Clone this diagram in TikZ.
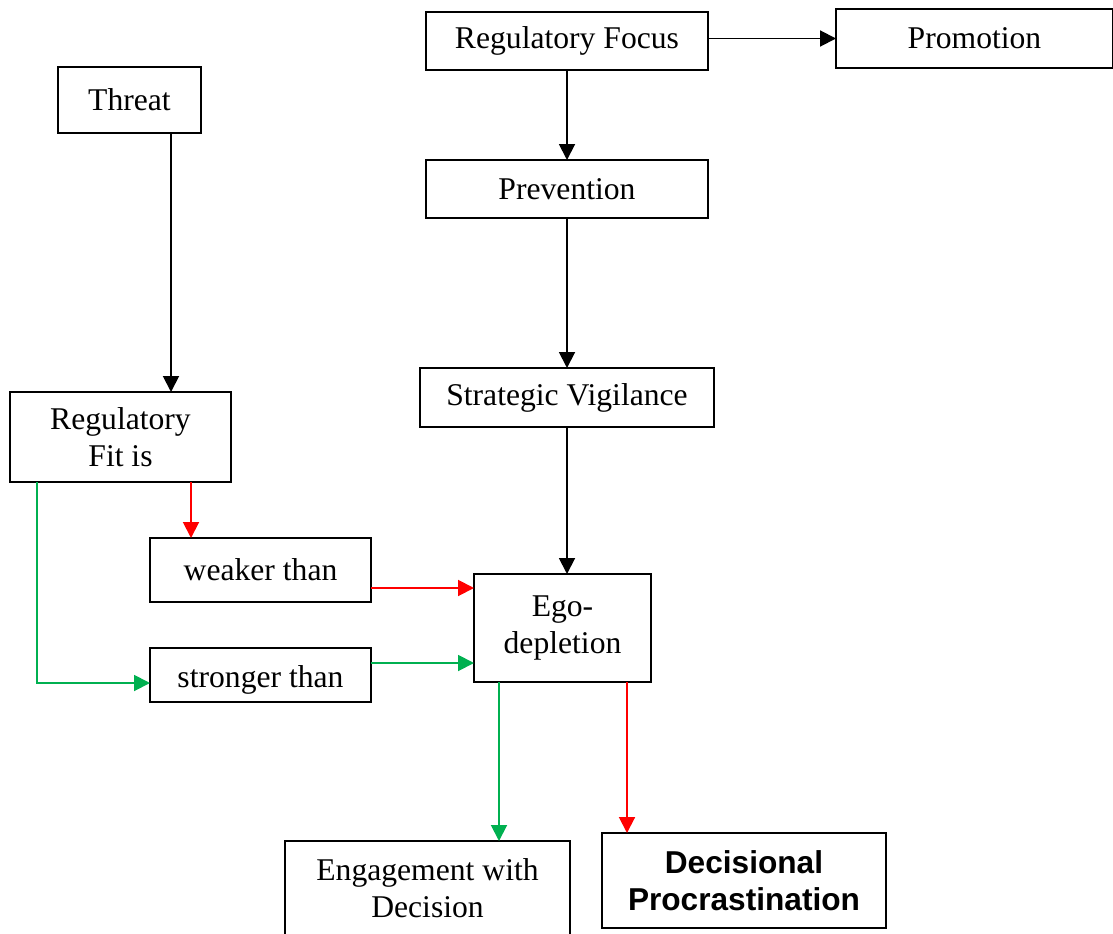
\documentclass[tikz,border=0pt]{standalone}
\usepackage{fontspec}
\setmainfont{Liberation Serif}
\newfontfamily\boldsans{Liberation Sans}
\usetikzlibrary{arrows.meta, positioning}
\definecolor{fitgreen}{RGB}{0,176,80}
\definecolor{fitred}{RGB}{255,0,0}

\begin{document}
\begin{tikzpicture}[>={Triangle[length=9pt,width=9pt]}, line width=1.1pt,
    box/.style={draw, rectangle, inner sep=0pt, outer sep=0pt, align=center, font=\fontsize{18}{21}\selectfont}]
    \useasboundingbox (0,0) rectangle (22.26,-18.68);

    %define the boxes
    \node[box, minimum width=5.64cm, minimum height=1.16cm] (focus) at (11.34,-0.82) {Regulatory Focus};
    \node[box, minimum width=5.54cm, minimum height=1.18cm] (promo) [right=2.56cm of focus, yshift=0.05cm] {Promotion};
    \node[box, minimum width=5.64cm, minimum height=1.16cm] (prev)  [below=1.8cm of focus] {Prevention};
    \node[box, minimum width=5.88cm, minimum height=1.18cm] (vig)   [below=3cm of prev] {Strategic Vigilance};
    \node[box, minimum width=3.54cm, minimum height=2.16cm] (ego)   [below=2.94cm of vig, xshift=-0.09cm] {Ego-\\depletion};
    \node[box, minimum width=2.86cm, minimum height=1.32cm] (threat) at (2.59,-2.0) {Threat};
    \node[box, minimum width=4.42cm, minimum height=1.8cm]  (fit)   [below=5.18cm of threat, xshift=-0.18cm] {Regulatory\\Fit is};
    \node[box, minimum width=4.42cm, minimum height=1.28cm] (weaker) [below=1.12cm of fit, xshift=2.8cm] {weaker than};
    \node[box, minimum width=4.42cm, minimum height=1.08cm, text height=16pt, text depth=2pt] (stronger) [below=0.92cm of weaker] {stronger than};
    \node[box, minimum width=5.7cm, minimum height=1.88cm]  (engage) [below=3.18cm of ego, xshift=-2.7cm] {Engagement with\\Decision};
    \node[box, minimum width=5.68cm, minimum height=1.9cm, font=\boldsans\bfseries\fontsize{18}{21}\selectfont] (proc) [below=3.02cm of ego, xshift=3.63cm] {Decisional\\Procrastination};

    %define the arrow ends
    \coordinate (t)  at ([xshift=0.83cm]threat.south);
    \coordinate (w)  at ([xshift=0.82cm]weaker.north west);
    \coordinate (g)  at ([xshift=0.54cm]fit.south west);
    \coordinate (s)  at ([yshift=-0.16cm]stronger.west);
    \coordinate (we) at ([yshift=-0.36cm]weaker.east);
    \coordinate (se) at ([yshift=0.24cm]stronger.east);
    \coordinate (eg) at ([xshift=0.5cm]ego.south west);
    \coordinate (ep) at ([xshift=-0.48cm]ego.south east);

    %define the links
    \draw[->] (promo.west -| focus.east) -- (promo.west);
    \draw[->] (focus.south) -- (prev.north);
    \draw[->] (prev.south) -- (prev.south |- vig.north);
    \draw[->] (vig.south) -- (vig.south |- ego.north);
    \draw[->] (t) -- (t |- fit.north);
    \draw[->, fitred] (w |- fit.south) -- (w);
    \draw[->, fitgreen] (g) |- (s);
    \draw[->, fitred] (we) -- (we -| ego.west);
    \draw[->, fitgreen] (se) -- (se -| ego.west);
    \draw[->, fitgreen] (eg) -- (eg |- engage.north);
    \draw[->, fitred] (ep) -- (ep |- proc.north);
\end{tikzpicture}
\end{document}
